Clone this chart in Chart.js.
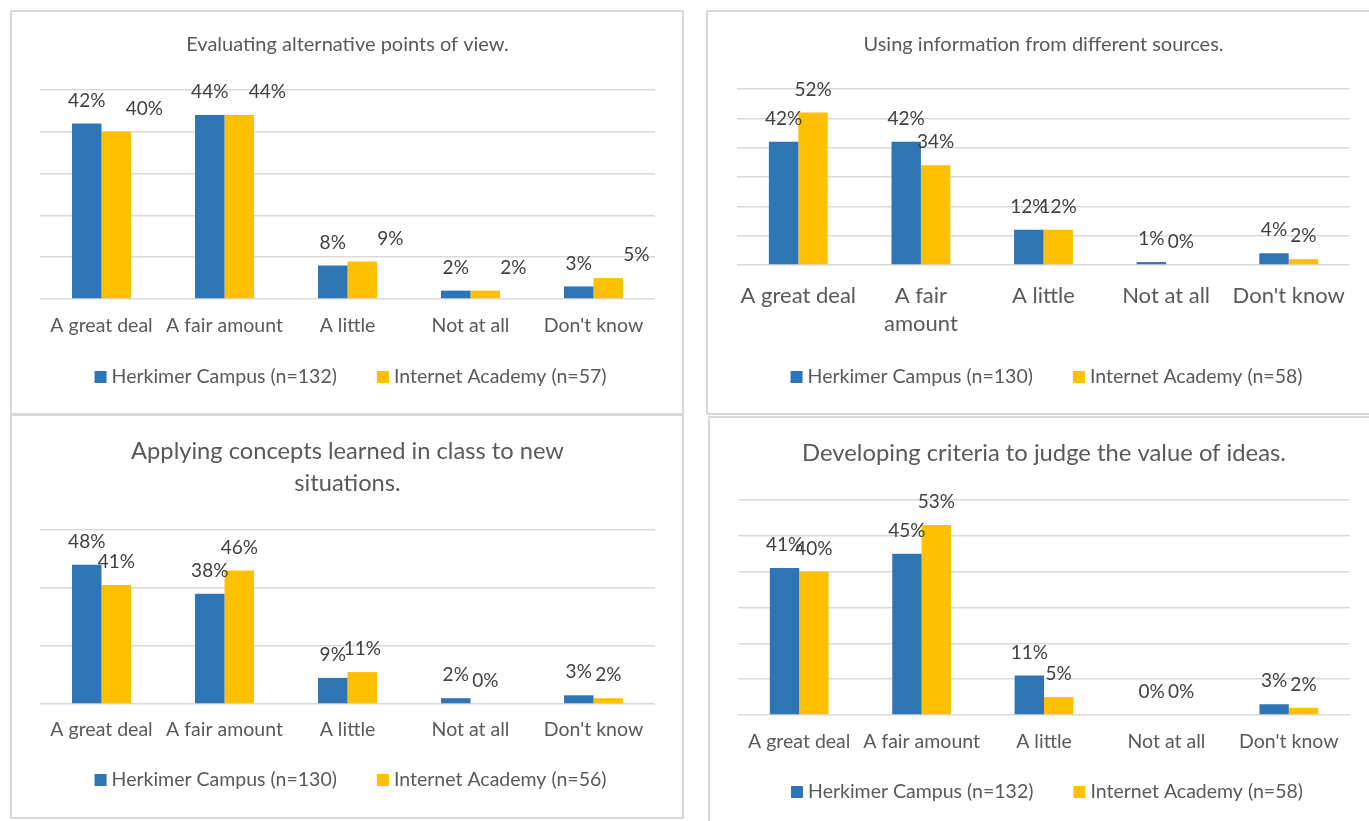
<!DOCTYPE html>
<html>
<head>
<meta charset="utf-8">
<script src="https://cdn.jsdelivr.net/npm/chart.js@4.4.1/dist/chart.umd.min.js"></script>
<style>
    html, body { margin: 0; padding: 0; background: #fff; overflow: hidden; }
    body { width: 1369px; height: 821px; position: relative; }
    .panel { position: absolute; border: 2px solid #d9d9d9; box-sizing: border-box; }
    .panel canvas { display: block; }
</style>
</head>
<body>
<div class="panel" style="left:10px;top:10px;width:674px;height:405px"><canvas id="c1" width="670" height="401"></canvas></div>
<div class="panel" style="left:706px;top:10px;width:674px;height:405px"><canvas id="c2" width="670" height="401"></canvas></div>
<div class="panel" style="left:10px;top:414px;width:674px;height:405px"><canvas id="c3" width="670" height="401"></canvas></div>
<div class="panel" style="left:708px;top:416px;width:674px;height:407px"><canvas id="c4" width="670" height="403"></canvas></div>
<script>
// Категории ответов.
const categories = ['A great deal', 'A fair amount', 'A little', 'Not at all', "Don't know"]
const categoriesWrapped = ['A great deal', ['A fair', 'amount'], 'A little', 'Not at all', "Don't know"]

// Evaluating alternative points of view.
const evaluatingHerkimer = [42, 44, 8, 2, 3]
const evaluatingInternet = [40, 44, 9, 2, 5]

// Using information from different sources.
const sourcesHerkimer = [42, 42, 12, 1, 4]
const sourcesInternet = [52, 34, 12, 0, 2]

// Applying concepts learned in class to new situations.
const applyingHerkimer = [48, 38, 9, 2, 3]
const applyingInternet = [41, 46, 11, 0, 2]

// Developing criteria to judge the value of ideas.
const criteriaHerkimer = [41, 45, 11, 0, 3]
const criteriaInternet = [40, 53, 5, 0, 2]

const blue = '#2e75b6'
const yellow = '#ffc000'

Chart.defaults.animation = false
Chart.defaults.responsive = false
Chart.defaults.font.family = 'Lato'
Chart.defaults.color = '#595959'

// Подписи значений над столбцами.
const barLabels = {
    id: 'barLabels',
    afterDatasetsDraw(chart, args, opts) {
        const ctx = chart.ctx
        ctx.save()
        ctx.font = `${opts.size}px Lato`
        ctx.fillStyle = '#404040'
        ctx.textAlign = 'center'
        ctx.textBaseline = 'middle'
        chart.data.datasets.forEach((ds, i) => {
            const shift = (opts.shift || [])[i] || 0
            chart.getDatasetMeta(i).data.forEach((bar, j) => {
                ctx.fillText(ds.data[j] + '%', bar.x + shift, bar.y - 23)
            })
        })
        ctx.restore()
    },
}

// Легенда с квадратными маркерами.
const boxLegend = {
    id: 'boxLegend',
    afterDraw(chart, args, opts) {
        const { ctx, chartArea } = chart
        const box = 12
        ctx.save()
        ctx.font = `${opts.size}px Lato`
        ctx.textBaseline = 'middle'
        const items = chart.data.datasets.map(ds => ({
            text: ds.label,
            color: ds.backgroundColor,
            width: ctx.measureText(ds.label).width,
        }))
        const total = items.reduce((s, i) => s + box + 5 + i.width, 0) + 40 * (items.length - 1)
        let x = (chartArea.left + chartArea.right) / 2 - total / 2 + 3
        items.forEach(i => {
            ctx.fillStyle = i.color
            ctx.fillRect(x, opts.y - box / 2, box, box)
            x += box + 5
            ctx.fillStyle = '#595959'
            ctx.fillText(i.text, x, opts.y)
            x += i.width + 40
        })
        ctx.restore()
    },
}

function makeChart(id, c) {
    return new Chart(document.getElementById(id), {
        type: 'bar',
        data: {
            labels: c.labels,
            datasets: [
                { label: c.herkimerLabel, data: c.herkimer, backgroundColor: blue },
                { label: c.internetLabel, data: c.internet, backgroundColor: yellow },
            ],
        },
        options: {
            layout: { padding: c.padding },
            categoryPercentage: 0.48,
            barPercentage: 1,
            plugins: {
                legend: { display: false },
                tooltip: { enabled: false },
                title: {
                    display: true,
                    text: c.title,
                    color: '#595959',
                    font: { size: c.titleSize, weight: 'normal', lineHeight: c.titleLineHeight || 1.2 },
                    padding: c.titlePadding,
                },
                barLabels: { size: 19, shift: c.shift },
                boxLegend: { size: 19.5, y: c.legendY },
            },
            scales: {
                x: {
                    grid: { display: false },
                    border: { display: false },
                    ticks: {
                        autoSkip: false,
                        maxRotation: 0,
                        padding: c.tickPadding,
                        color: '#595959',
                        font: { size: c.tickSize, lineHeight: c.tickLineHeight || 1.2 },
                    },
                    afterFit: s => { s.height = c.axisHeight },
                },
                y: {
                    min: 0,
                    max: c.max,
                    ticks: { display: false, stepSize: c.step },
                    grid: { color: '#d9d9d9', lineWidth: 1.5, drawTicks: false },
                    border: { display: false },
                    afterFit: s => { s.width = 0 },
                },
            },
        },
        plugins: [barLabels, boxLegend],
    })
}

makeChart('c1', {
    title: 'Evaluating alternative points of view.',
    titleSize: 20,
    titlePadding: { top: 21, bottom: 33 },
    labels: categories,
    herkimer: evaluatingHerkimer,
    internet: evaluatingInternet,
    herkimerLabel: 'Herkimer Campus (n=132)',
    internetLabel: 'Internet Academy (n=57)',
    max: 50, step: 10,
    tickSize: 19.5, tickPadding: 7.3, axisHeight: 50,
    padding: { left: 28, right: 27, top: 0, bottom: 64 },
    legendY: 365,
    shift: [0, 28],
})

makeChart('c2', {
    title: 'Using information from different sources.',
    titleSize: 20,
    titlePadding: { top: 21, bottom: 32 },
    labels: categoriesWrapped,
    herkimer: sourcesHerkimer,
    internet: sourcesInternet,
    herkimerLabel: 'Herkimer Campus (n=130)',
    internetLabel: 'Internet Academy (n=58)',
    max: 60, step: 10,
    tickSize: 22, tickLineHeight: 28 / 22, tickPadding: 9, axisHeight: 80,
    padding: { left: 29, right: 28, top: 0, bottom: 68 },
    legendY: 365,
})

makeChart('c3', {
    title: ['Applying concepts learned in class to new', 'situations.'],
    titleSize: 23.7,
    titleLineHeight: 32 / 23.7,
    titlePadding: { top: 19, bottom: 31 },
    labels: categories,
    herkimer: applyingHerkimer,
    internet: applyingInternet,
    herkimerLabel: 'Herkimer Campus (n=130)',
    internetLabel: 'Internet Academy (n=56)',
    max: 60, step: 20,
    tickSize: 19.5, tickPadding: 6.3, axisHeight: 50,
    padding: { left: 28, right: 27, top: 0, bottom: 63 },
    legendY: 364,
})

makeChart('c4', {
    title: 'Developing criteria to judge the value of ideas.',
    titleSize: 23.8,
    titlePadding: { top: 20.7, bottom: 32.7 },
    labels: categories,
    herkimer: criteriaHerkimer,
    internet: criteriaInternet,
    herkimerLabel: 'Herkimer Campus (n=132)',
    internetLabel: 'Internet Academy (n=58)',
    max: 60, step: 10,
    tickSize: 19.5, tickPadding: 7.3, axisHeight: 50,
    padding: { left: 28, right: 30, top: 0, bottom: 56 },
    legendY: 374,
})
</script>
</body>
</html>
